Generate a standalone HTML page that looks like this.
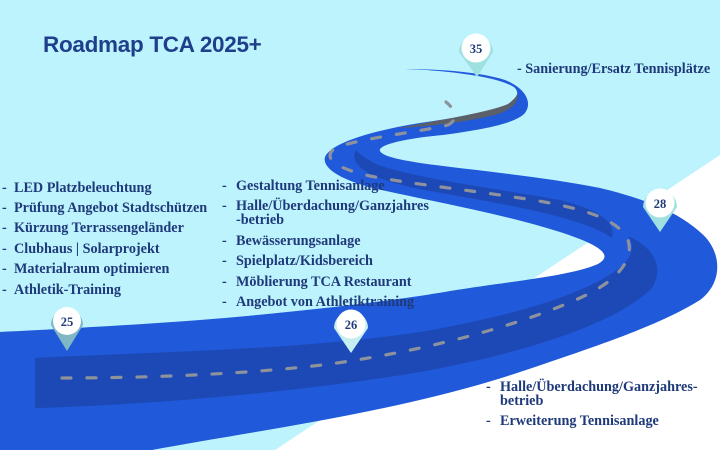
<!DOCTYPE html>
<html><head><meta charset="utf-8"><style>
html,body{margin:0;padding:0;background:#bdf3fd;}
svg{display:block;}
.t{font-family:"Liberation Serif",serif;font-weight:bold;font-size:14.2px;fill:#1f3a7a;}
.n{font-family:"Liberation Serif",serif;font-weight:bold;font-size:12.5px;fill:#1f3a7a;}
</style></head><body>
<svg width="720" height="450" viewBox="0 0 720 450" xmlns="http://www.w3.org/2000/svg">
<rect width="720" height="450" fill="#bdf3fd"/>
<polygon points="720,155 720,450 275,450" fill="#ffffff"/>
<!-- road -->
<path fill="#2059da" d="M405,69 C440,70 500,76 515,88 C522,96 512,106 493,111 C460,118 420,122 393,128 C360,135 330,145 325,157 C322,168 340,180 377,189 C420,199 500,213 560,232 C600,245 614,255 598,264 C570,276 520,280 450,291 C400,300 300,312 200,320 C120,326 40,330 0,332 L0,470 C60,465 110,455 152,450 C260,430 400,412 520,372 C600,345 660,325 700,300 C724,282 722,250 700,232 C680,214 650,200 600,188 C540,176 470,170 420,163 C395,159 378,155 380,149 C385,142 420,137 443,135 C480,130 515,124 525,113 C533,102 525,88 505,80 C480,72 440,69 405,69 Z"/>
<!-- dark shading -->
<path fill="#1c49b5" d="M35,358 C150,352 300,350 420,332 C520,315 590,292 622,266 C634,254 634,244 628,236 C655,248 664,268 652,288 C620,320 540,350 420,372 C300,392 150,405 35,408 Z"/>
<path fill="#1c49b5" d="M356,150 C348,165 368,180 430,191 C510,205 585,218 612,238 C616,222 600,210 560,200 C480,186 400,176 372,162 C362,156 357,152 356,150 Z"/>
<path fill="#5b5f6a" d="M398,128 C440,120 490,112 508,104 C516,98 518,94 517,92 C520,102 512,110 495,115 C460,123 425,127 398,128 Z"/>
<!-- center dashes -->
<path fill="none" stroke="#8e929c" stroke-width="3.2" stroke-linecap="round" stroke-dasharray="9 16" d="M62,378 C150,378 250,374 330,364 C430,350 520,325 580,298 C620,280 634,258 628,240 C618,218 580,208 533,200 C470,190 410,184 370,176 C335,168 322,158 335,148 C360,138 420,132 448,125 C458,120 456,110 446,102"/>
<!-- pins -->
<g>
<path d="M51,325 A16,16 0 1 1 83,325 L67,351 Z" fill="#7fb8c4"/>
<circle cx="67" cy="321" r="14" fill="#fff"/>
<text x="67" y="326" text-anchor="middle" class="n">25</text>
</g>
<g>
<path d="M334,328 A17,17 0 1 1 368,328 L351,353 Z" fill="#c6eef0"/>
<circle cx="351" cy="324" r="14.5" fill="#fff"/>
<text x="351" y="329" text-anchor="middle" class="n">26</text>
</g>
<g>
<path d="M643,207 A17,17 0 1 1 677,207 L660,232 Z" fill="#9fe0e0"/>
<circle cx="660" cy="203" r="14.5" fill="#fff"/>
<text x="660" y="208" text-anchor="middle" class="n">28</text>
</g>
<g>
<path d="M459,52 A17,17 0 1 1 493,52 L477,77 Z" fill="#9fe0e0"/>
<circle cx="476" cy="48" r="14.5" fill="#fff"/>
<text x="476" y="53" text-anchor="middle" class="n">35</text>
</g>
<!-- title -->
<text x="43" y="52" font-family="Liberation Sans, sans-serif" font-weight="bold" font-size="22.5" fill="#1f3f8a" letter-spacing="-0.3">Roadmap TCA 2025+</text>
<!-- left list -->
<g class="t">
<text x="2" y="192">-</text><text x="14" y="192">LED Platzbeleuchtung</text>
<text x="2" y="212">-</text><text x="14" y="212">Prüfung Angebot Stadtschützen</text>
<text x="2" y="232">-</text><text x="14" y="232">Kürzung Terrassengeländer</text>
<text x="2" y="253">-</text><text x="14" y="253">Clubhaus | Solarprojekt</text>
<text x="2" y="273">-</text><text x="14" y="273">Materialraum optimieren</text>
<text x="2" y="294">-</text><text x="14" y="294">Athletik-Training</text>
</g>
<g class="t">
<text x="222" y="190">-</text><text x="236" y="190">Gestaltung Tennisanlage</text>
<text x="222" y="210">-</text><text x="236" y="210">Halle/Überdachung/Ganzjahres</text>
<text x="236" y="224">-betrieb</text>
<text x="222" y="245">-</text><text x="236" y="245">Bewässerungsanlage</text>
<text x="222" y="265">-</text><text x="236" y="265">Spielplatz/Kidsbereich</text>
<text x="222" y="286">-</text><text x="236" y="286">Möblierung TCA Restaurant</text>
<text x="222" y="306">-</text><text x="236" y="306">Angebot von Athletiktraining</text>
</g>
<g class="t">
<text x="486" y="391">-</text><text x="500" y="391">Halle/Überdachung/Ganzjahres-</text>
<text x="500" y="405">betrieb</text>
<text x="486" y="425">-</text><text x="500" y="425">Erweiterung Tennisanlage</text>
<text x="517" y="73">- Sanierung/Ersatz Tennisplätze</text>
</g>
</svg>
</body></html>
